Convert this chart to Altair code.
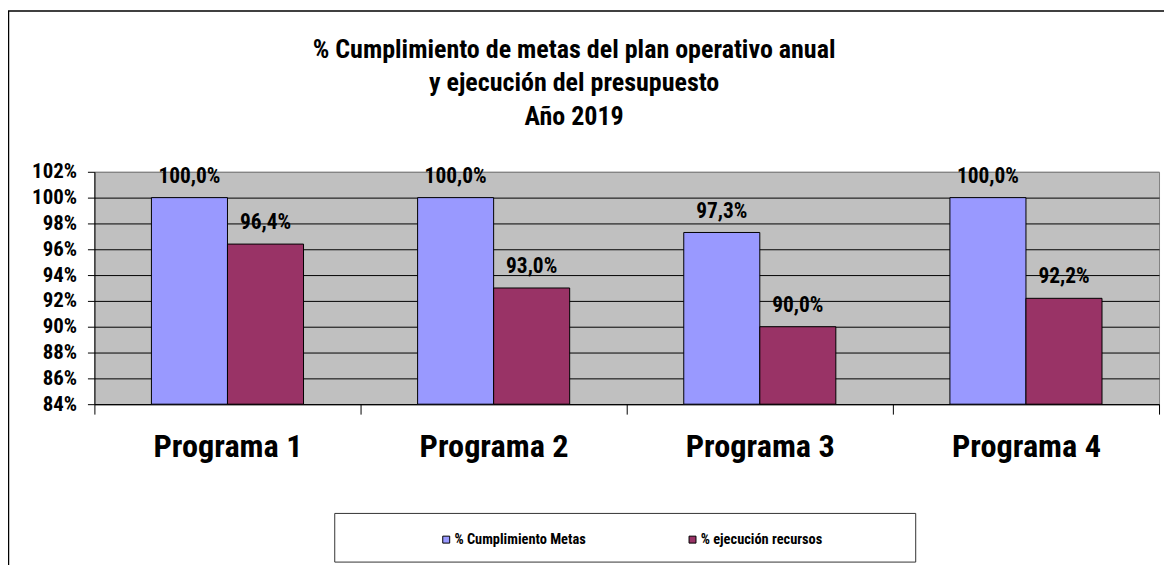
import altair as alt
import pandas as pd

# ---- data ----
programas = ["Programa 1", "Programa 2", "Programa 3", "Programa 4"]
series = ["% Cumplimiento Metas", "% ejecución recursos"]
cumplimiento_metas = [1.000, 1.000, 0.973, 1.000]
ejecucion_recursos = [0.964, 0.930, 0.900, 0.922]
colores = ["#9999FF", "#993366"]
y_ticks = [0.84, 0.86, 0.88, 0.90, 0.92, 0.94, 0.96, 0.98, 1.00, 1.02]
title_lines = [
    "% Cumplimiento  de metas del plan operativo anual",
    "y ejecución del presupuesto",
    "Año 2019",
]

rows = []
for i, p in enumerate(programas):
    for s, vals in zip(series, [cumplimiento_metas, ejecucion_recursos]):
        v = vals[i]
        rows.append({
            "programa": p,
            "serie": s,
            "valor": v,
            "etiqueta": f"{v * 100:.1f}%".replace(".", ","),
        })
df = pd.DataFrame(rows)

FONT = "Roboto Condensed, Liberation Sans, sans-serif"
W, H = 1072, 234

base = alt.Chart(df).encode(
    x=alt.X(
        "programa:N",
        sort=programas,
        title=None,
        scale=alt.Scale(paddingInner=0, paddingOuter=0),
        axis=alt.Axis(
            labelAngle=0,
            labelFont=FONT,
            labelFontSize=32.5,
            labelFontWeight="bold",
            labelColor="black",
            labelPadding=17,
            tickBand="extent",
            tickSize=10,
            tickColor="black",
            domainColor="black",
            grid=False,
        ),
    ),
    xOffset=alt.XOffset(
        "serie:N", sort=series, scale=alt.Scale(paddingInner=0, paddingOuter=0.75)
    ),
    y=alt.Y(
        "valor:Q",
        title=None,
        scale=alt.Scale(domain=[0.84, 1.02], zero=False, nice=False),
        axis=alt.Axis(
            values=y_ticks,
            format=".0%",
            labelFont=FONT,
            labelFontSize=21,
            labelFontWeight="bold",
            labelColor="black",
            labelPadding=11,
            tickSize=7,
            tickColor="black",
            domainColor="black",
            gridColor={
                "condition": {"test": "datum.value >= 1.01", "value": "#808080"},
                "value": "black",
            },
            gridOpacity=1,
        ),
    ),
)

bars = base.mark_bar(stroke="black", strokeWidth=1).encode(
    y2=alt.datum(0.84),
    color=alt.Color(
        "serie:N",
        sort=series,
        scale=alt.Scale(domain=series, range=colores),
        legend=alt.Legend(
            title=None,
            orient="none",
            legendX=347,
            legendY=363,
            direction="horizontal",
            symbolType="square",
            symbolSize=49,
            symbolStrokeColor="black",
            symbolStrokeWidth=1,
            symbolOpacity=1,
            labelFont=FONT,
            labelFontSize=14.5,
            labelFontWeight="bold",
            labelColor="black",
            labelOffset=1,
            columnPadding=100,
            padding=0,
        ),
    ),
)

labels = base.mark_text(
    font=FONT, fontSize=21.5, fontWeight="bold", baseline="alphabetic", dy=-15, color="black"
).encode(text="etiqueta:N")

one = alt.Data(values=[{}])
legend_box = alt.Chart(one).mark_rect(fillOpacity=0, stroke="#333333", strokeWidth=1).encode(
    x=alt.value(242), x2=alt.value(827), y=alt.value(344), y2=alt.value(393)
)
border_left = alt.Chart(one).mark_rule(color="black", strokeWidth=1.5).encode(
    x=alt.value(-86.5), y=alt.value(-162), y2=alt.value(H + 170)
)
border_top = alt.Chart(one).mark_rule(color="black", strokeWidth=1.5).encode(
    x=alt.value(-87), x2=alt.value(W + 20), y=alt.value(-162)
)

chart = (
    alt.layer(bars, labels, legend_box, border_left, border_top)
    .properties(
        width=W,
        height=H,
        title=alt.Title(
            text=title_lines,
            font=FONT,
            fontSize=26.2,
            fontWeight="bold",
            color="black",
            anchor="middle",
            frame="group",
            dx=-53,
            dy=121,
            lineHeight=34,
            offset=0,
        ),
        autosize=alt.AutoSizeParams(type="none"),
        padding={"left": 87, "top": 163, "right": 5, "bottom": 160},
        background="white",
    )
    .configure_view(fill="#C0C0C0", stroke="#808080", strokeWidth=1)
)

chart.save("out.html", embed_options={"renderer": "svg", "actions": False})
